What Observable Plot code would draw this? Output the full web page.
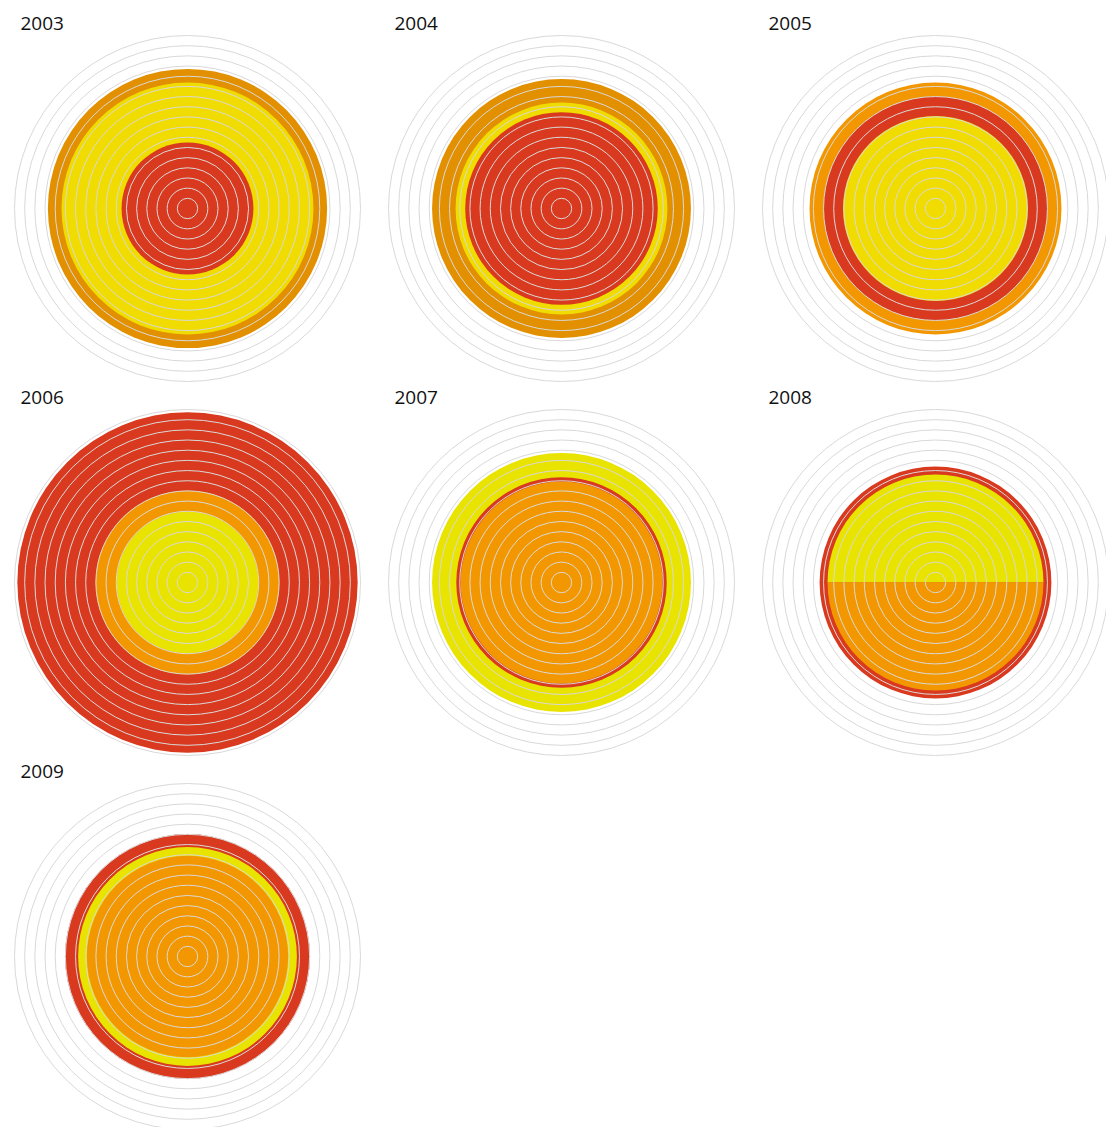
<!DOCTYPE html>
<html>
<head>
<meta charset="utf-8">
<script src="https://cdn.jsdelivr.net/npm/d3@7"></script>
<script src="https://cdn.jsdelivr.net/npm/@observablehq/plot@0.6"></script>
<style>
  html, body { margin: 0; padding: 0; background: #fff; }
  #chart svg { display: block; }
</style>
</head>
<body>
<div id="chart"></div>
<script>
// ---- data (radii, in grid-ring units) ----
const years = [2003, 2004, 2005, 2006, 2007, 2008, 2009];
const gridRings = [1, 2, 3, 4, 5, 6, 7, 8, 9, 10, 11, 12, 13, 14, 15, 16, 17];
const categories = ["red", "orange", "amber", "yellow", "lemon"];
const categoryColors = ["#d9391e", "#f39700", "#e28f00", "#f0dc00", "#e9e300"];

const ringYear = [2003, 2003, 2003, 2004, 2004, 2004, 2005, 2005, 2005,
                  2006, 2006, 2006, 2007, 2007, 2007, 2008, 2008, 2008,
                  2009, 2009, 2009];
const ringCategory = ["red", "yellow", "amber", "red", "yellow", "amber",
                      "yellow", "red", "orange", "lemon", "orange", "red",
                      "orange", "red", "lemon", "lemon", "orange", "red",
                      "orange", "lemon", "red"];
const ringOuter = [6.48, 12.38, 13.72, 9.46, 10.41, 12.72, 9.09, 11.0, 12.38,
                   6.97, 9.04, 16.72, 9.92, 10.34, 12.72, 10.61, 10.61, 11.39,
                   9.89, 10.75, 12.03];
const ringShare = [1, 1, 1, 1, 1, 1, 1, 1, 1,
                   1, 1, 1, 1, 1, 1, 0.5, 0.5, 1,
                   1, 1, 1];

// ---- derived ----
const cols = 3;
const colOf = y => years.indexOf(y) % cols;
const rowOf = y => Math.floor(years.indexOf(y) / cols);

const rings = ringYear.map((year, i) => ({
  year, category: ringCategory[i], outer: ringOuter[i], share: ringShare[i]
}));
// angular start of each part within the same layer
for (const byYear of d3.group(rings, d => d.year, d => d.outer).values()) {
  for (const layer of byYear.values()) {
    let acc = 0;
    for (const d of layer) { d.start = acc; acc += d.share; }
  }
}
function sector(start, share) {
  return {
    draw(ctx, size) {
      const r = Math.sqrt(size / Math.PI);
      if (share >= 1) {
        ctx.moveTo(r, 0);
        ctx.arc(0, 0, r, 0, 2 * Math.PI);
        ctx.closePath();
        return;
      }
      const a0 = Math.PI + 2 * Math.PI * start;
      const a1 = a0 + 2 * Math.PI * share;
      ctx.moveTo(0, 0);
      ctx.arc(0, 0, r, a0, a1);
      ctx.closePath();
    }
  };
}
rings.forEach(d => { d.symbol = sector(d.start, d.share); });

const grid = d3.cross(years, gridRings, (year, ring) => ({year, ring}));

const chart = Plot.plot({
  width: 1106,
  height: 1127,
  marginLeft: -0.5,
  marginRight: -16.5,
  marginTop: 20,
  marginBottom: -16,
  style: {fontFamily: "'Open Sans', sans-serif", background: "#fff"},
  fx: {padding: 0, axis: null},
  fy: {padding: 0, axis: null},
  x: {domain: [-1, 1], axis: null},
  y: {domain: [-1, 1], axis: null},
  r: {type: "linear", domain: [0, 17], range: [0, 173]},
  color: {domain: categories, range: categoryColors},
  marks: [
    Plot.dot(rings, {
      fx: d => colOf(d.year),
      fy: d => rowOf(d.year),
      x: () => 0,
      y: () => 0,
      r: "outer",
      symbol: "symbol",
      fill: "category",
      stroke: null
    }),
    Plot.dot(grid, {
      fx: d => colOf(d.year),
      fy: d => rowOf(d.year),
      x: () => 0,
      y: () => 0,
      r: "ring",
      fill: "none",
      stroke: "#d9d9d9",
      strokeWidth: 1
    }),
    Plot.text(years, {
      fx: d => colOf(d),
      fy: d => rowOf(d),
      text: d => String(d),
      frameAnchor: "top-left",
      textAnchor: "start",
      lineAnchor: "top",
      dx: 20,
      dy: -5.5,
      fontSize: 19,
      fill: "#111"
    })
  ]
});
document.getElementById("chart").appendChild(chart);
</script>
</body>
</html>
